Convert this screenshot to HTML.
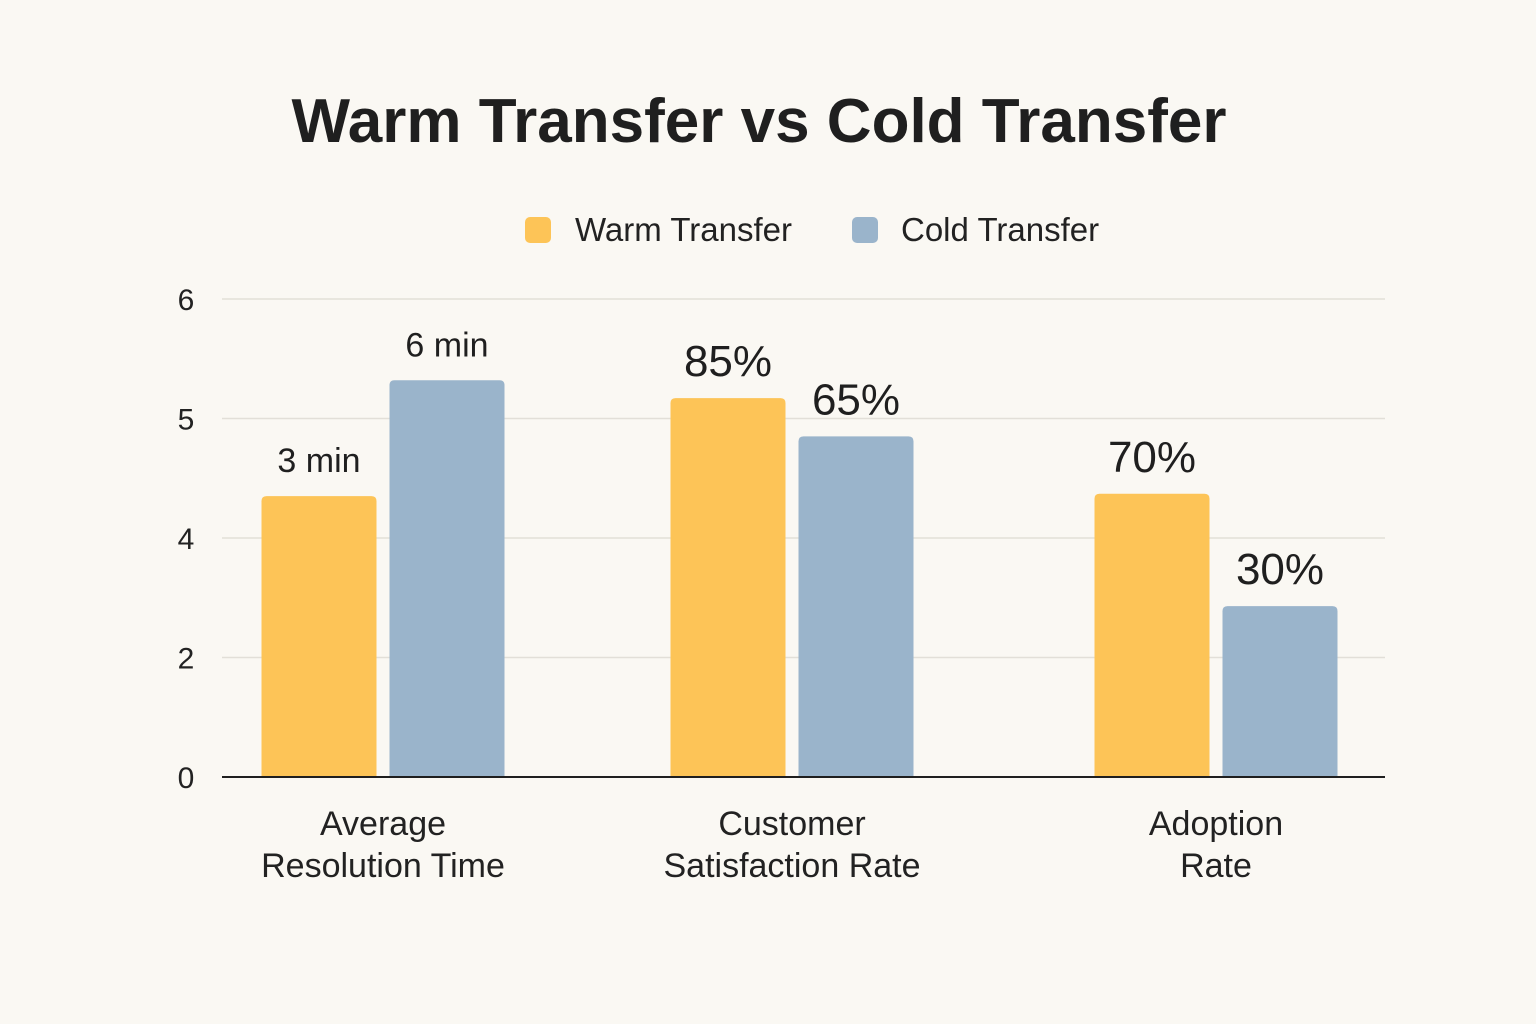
<!DOCTYPE html>
<html><head><meta charset="utf-8"><style>
html,body{margin:0;padding:0;background:#faf8f3;}
svg{display:block;font-family:"Liberation Sans","DejaVu Sans",sans-serif;}
</style></head><body>
<svg id="chart" width="1536" height="1024" viewBox="0 0 1536 1024">
<rect width="1536" height="1024" fill="#faf8f3"/>
<text x="759" y="142" text-anchor="middle" font-size="62" font-weight="bold" fill="#1f1f1f">Warm Transfer vs Cold Transfer</text>
<g>
<rect x="525" y="217" width="26" height="26" rx="5" fill="#fdc457"/>
<text x="575" y="241" font-size="33" fill="#222">Warm Transfer</text>
<rect x="852" y="217" width="26" height="26" rx="5" fill="#9ab4cb"/>
<text x="901" y="241" font-size="33" fill="#222">Cold Transfer</text>
</g>
<g id="grid"></g><g id="bars"></g><g id="labels"></g>
</svg>
<script>
const categories = [["Average","Resolution Time"],["Customer","Satisfaction Rate"],["Adoption","Rate"]];
const warmValues = [4.35, 5.17, 4.37];
const coldValues = [5.32, 4.85, 2.86];
const warmLabels = ["3 min","85%","70%"];
const coldLabels = ["6 min","65%","30%"];
const tickLabels = [0, 2, 4, 5, 6];

const NS="http://www.w3.org/2000/svg";
const plotLeft=222, plotRight=1385, yBottom=777, tickStep=119.5;
function yScale(v){
  for(let i=0;i<tickLabels.length-1;i++){
    const a=tickLabels[i], b=tickLabels[i+1];
    if(v<=b || i===tickLabels.length-2){
      const f=(v-a)/(b-a);
      return yBottom-(i+f)*tickStep;
    }
  }
}
const groupCenters=[383,792,1216];
function xCenter(i){return plotLeft+(plotRight-plotLeft)*(groupCenters[i]-plotLeft)/(plotRight-plotLeft);}
const barW=115, gap=13;
function mk(tag,attrs,parent,txt){const e=document.createElementNS(NS,tag);for(const k in attrs)e.setAttribute(k,attrs[k]);if(txt!==undefined)e.textContent=txt;parent.appendChild(e);return e;}
const grid=document.getElementById('grid'), bars=document.getElementById('bars'), labels=document.getElementById('labels');
tickLabels.forEach((t,i)=>{
  const y=yScale(t);
  if(i>0){
    const l=mk('line',{x1:plotLeft,x2:plotRight,y1:y,y2:y,stroke:'#e2dfd8','stroke-width':1.5},grid);
    
    
  }
  const tx=mk('text',{x:186,y:y+11,'text-anchor':'middle','font-size':30,fill:'#222'},grid,String(t));
  
  
});
function barPath(x,y,w,h,r){return `M${x},${y+h}V${y+r}Q${x},${y} ${x+r},${y}H${x+w-r}Q${x+w},${y} ${x+w},${y+r}V${y+h}Z`;}
categories.forEach((c,i)=>{
  const cx=xCenter(i);
  [[warmValues,warmLabels,'#fdc457',cx-gap/2-barW,'warm'],[coldValues,coldLabels,'#9ab4cb',cx+gap/2,'cold']].forEach(([vals,labs,col,x,nm])=>{
    const y=yScale(vals[i]);
    const p=mk('path',{d:barPath(x,y,barW,yBottom-y,5),fill:col},bars);
    
    
    const big=labs[i].indexOf('%')>=0;
    const t=mk('text',{x:x+barW/2,y:y-(big?22:24),'text-anchor':'middle','font-size':big?44:34,fill:'#1f1f1f'},labels,labs[i]);
    
    
  });
  c.forEach((line,j)=>{
    const t=mk('text',{x:cx,y:835+j*42,'text-anchor':'middle','font-size':34,fill:'#222'},labels,line);
    
    
  });
});
const ax=mk('line',{x1:plotLeft,x2:plotRight,y1:yBottom,y2:yBottom,stroke:'#1f1f1f','stroke-width':2},labels);


</script>
</body></html>
